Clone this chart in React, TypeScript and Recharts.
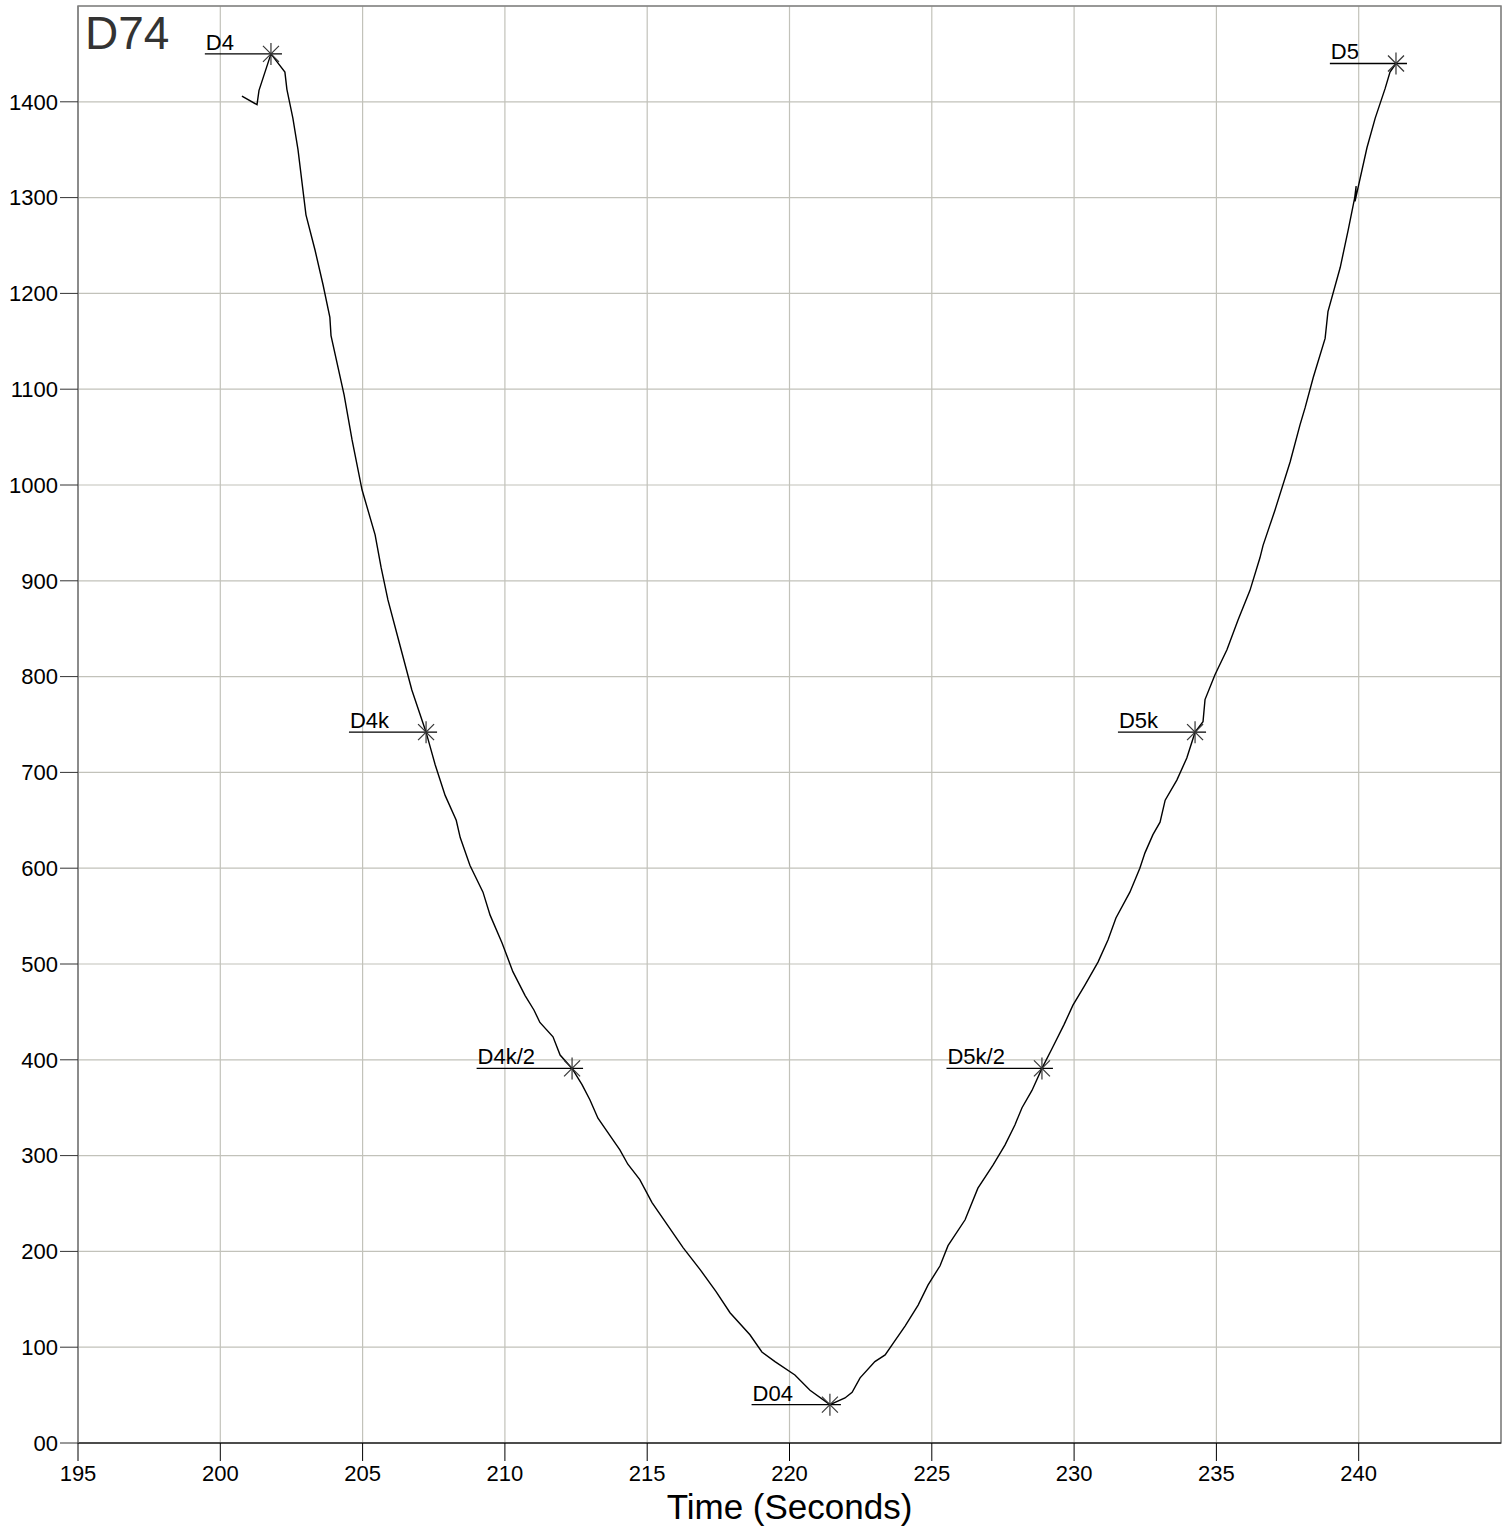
import React from "react";
import {
  ComposedChart,
  Line,
  Scatter,
  XAxis,
  YAxis,
  CartesianGrid,
  ReferenceArea,
} from "recharts";

// curve (time in s, value)
const curveTime = [
  200.76, 201.29, 201.36, 201.78, 202.27, 202.34, 202.55, 202.73, 203.01, 203.33,
  203.61, 203.85, 203.89, 204.35, 204.63, 204.98, 205.44, 205.65, 205.89, 206.31,
  206.73, 207.23, 207.55, 207.9, 208.29, 208.43, 208.77, 209.23, 209.48, 209.9,
  210.28, 210.71, 211.02, 211.23, 211.69, 211.94, 212.36, 212.71, 212.99, 213.27,
  213.76, 214.04, 214.32, 214.74, 215.17, 215.63, 216.26, 216.86, 217.42, 217.91,
  218.61, 219.03, 219.49, 220.19, 220.72, 221.42, 221.95, 222.2, 222.48, 223.0,
  223.36, 223.64, 224.06, 224.52, 224.87, 225.29, 225.57, 226.17, 226.62, 227.15,
  227.57, 227.92, 228.17, 228.52, 228.87, 229.23, 229.65, 229.96, 230.38, 230.84,
  231.19, 231.47, 231.96, 232.31, 232.49, 232.77, 233.02, 233.2, 233.61, 233.96,
  234.25, 234.53, 234.6, 234.95, 235.37, 235.76, 236.18, 236.53, 236.64, 237.06,
  237.59, 237.94, 238.12, 238.4, 238.82, 238.92, 239.35, 239.63, 239.86, 239.91,
  239.87, 240.29, 240.58, 240.93, 241.1, 241.31,
];
const curveValue = [
  1406, 1397, 1412, 1450, 1431, 1413, 1383, 1350, 1282, 1245,
  1209, 1175, 1156, 1094, 1047, 995, 948, 914, 880, 833,
  786, 742, 708, 676, 650, 632, 603, 575, 551, 522,
  492, 467, 452, 439, 424, 405, 391, 374, 358, 339,
  318, 306, 291, 275, 251, 231, 204, 181, 158, 136,
  113, 95, 85, 71, 55, 40, 47, 53, 68, 85,
  92, 104, 122, 144, 165, 185, 206, 233, 266, 290,
  311, 332, 350, 368, 391, 412, 437, 457, 478, 502,
  525, 548, 575, 600, 616, 635, 648, 671, 692, 715,
  742, 753, 776, 802, 828, 859, 890, 924, 937, 974,
  1024, 1063, 1081, 1112, 1153, 1181, 1227, 1266, 1300, 1312,
  1296, 1352, 1383, 1414, 1431, 1440,
];

const markerLabels = ["D4", "D4k", "D4k/2", "D04", "D5k/2", "D5k", "D5"];
const markerTime = [201.78, 207.23, 212.36, 221.42, 228.87, 234.25, 241.31];
const markerValue = [1450, 742, 391, 40, 391, 742, 1440];

const xTicks = [195, 200, 205, 210, 215, 220, 225, 230, 235, 240];
const yTicks = [0, 100, 200, 300, 400, 500, 600, 700, 800, 900, 1000, 1100, 1200, 1300, 1400];

const curve = curveTime.map((t, i) => ({ t, v: curveValue[i] }));
const markers = markerTime.map((t, i) => ({ t, v: markerValue[i], label: markerLabels[i] }));

const FONT = "'Liberation Sans', Arial, sans-serif";

function textWidth(s: string) {
  const w: Record<string, number> = { D: 0.722, k: 0.5, "/": 0.278 };
  let sum = 0;
  for (const c of s) sum += w[c] ?? 0.556;
  return sum * 22;
}

function StarMarker(props: any) {
  const { cx, cy, payload } = props;
  const r = 11;
  const d = 8;
  const start = cx - textWidth(payload.label) - 38;
  return (
    <g>
      <line x1={start} y1={cy} x2={cx + r} y2={cy} stroke="#000" strokeWidth={1.3} />
      <text x={start + 1} y={cy - 4} fontSize={22} fontFamily={FONT} fill="#000">
        {payload.label}
      </text>
      <line x1={cx} y1={cy - r} x2={cx} y2={cy + r} stroke="#333" strokeWidth={1.2} />
      <line x1={cx - d} y1={cy - d} x2={cx + d} y2={cy + d} stroke="#333" strokeWidth={1.2} />
      <line x1={cx - d} y1={cy + d} x2={cx + d} y2={cy - d} stroke="#333" strokeWidth={1.2} />
    </g>
  );
}

export default function App() {
  return (
    <div style={{ position: "absolute", left: 0, top: 0, background: "#fff" }}>
      <ComposedChart
        width={1510}
        height={1529}
        margin={{ top: 6, right: 9, left: 0, bottom: 0 }}
        style={{ fontFamily: FONT }}
      >
        <CartesianGrid stroke="#c2c2ba" strokeWidth={1.2} vertical horizontal />
        <ReferenceArea
          x1={195}
          x2={245}
          y1={0}
          y2={1500}
          fill="none"
          stroke="#808080"
          strokeWidth={1.5}
          ifOverflow="visible"
        />
        <XAxis
          type="number"
          dataKey="t"
          domain={[195, 245]}
          ticks={xTicks}
          allowDataOverflow
          height={86}
          tickSize={18}
          tickMargin={4}
          stroke="#000"
          tick={{ fill: "#000", fontSize: 22, fontFamily: FONT }}
          label={{
            value: "Time (Seconds)",
            position: "insideBottom",
            offset: 10,
            fontSize: 35,
            fill: "#000",
            fontFamily: FONT,
          }}
        />
        <YAxis
          type="number"
          dataKey="v"
          domain={[0, 1500]}
          ticks={yTicks}
          allowDataOverflow
          width={78}
          tickSize={18}
          tickMargin={2}
          axisLine={{ stroke: "#808080" }}
          tickLine={{ stroke: "#333" }}
          tick={{ fill: "#000", fontSize: 22, fontFamily: FONT }}
          tickFormatter={(v: number) => (v === 0 ? "00" : String(v))}
        />
        <Line
          data={curve}
          dataKey="v"
          type="linear"
          stroke="#000"
          strokeWidth={1.4}
          dot={false}
          activeDot={false}
          isAnimationActive={false}
        />
        <Scatter
          data={markers}
          dataKey="v"
          shape={StarMarker}
          isAnimationActive={false}
        />
        <text x={85} y={49} fontSize={46} fontFamily={FONT} fill="#333">
          D74
        </text>
      </ComposedChart>
    </div>
  );
}
